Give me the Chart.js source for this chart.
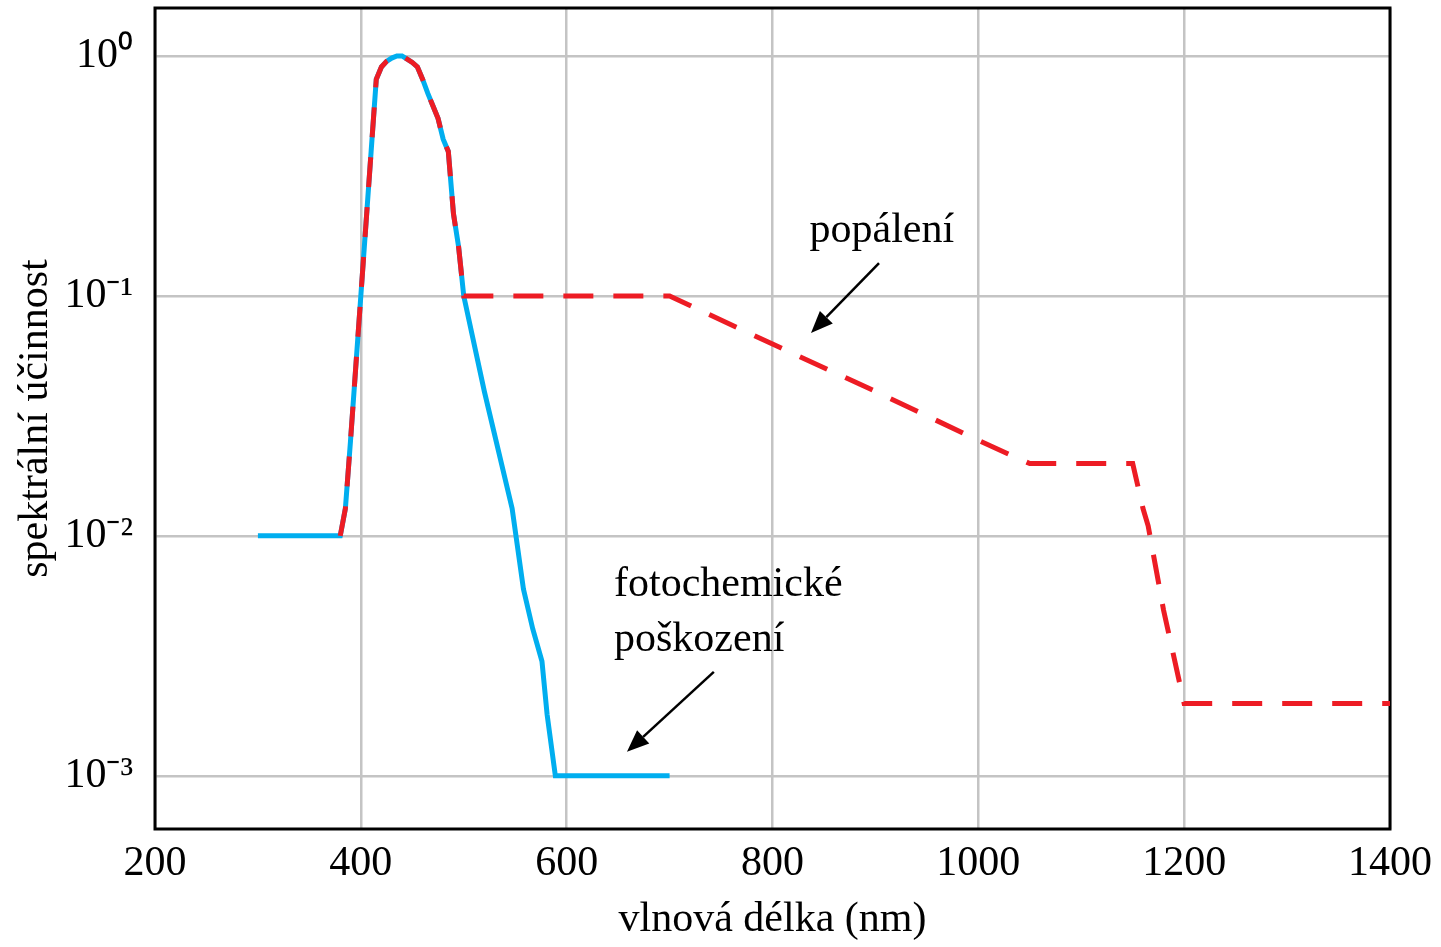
<!DOCTYPE html>
<html>
<head>
<meta charset="utf-8">
<script src="https://cdn.jsdelivr.net/npm/chart.js@4"></script>
<style>
  html, body { margin: 0; padding: 0; background: #fff; }
  canvas { display: block; }
</style>
</head>
<body>
<canvas id="myChart" width="1441" height="947"></canvas>
<script>
// fotochemické poškození (modrá křivka)
var blueX = [300, 380, 385, 390, 395, 400, 405, 410, 415, 420, 425, 430, 435, 440, 445, 450, 455, 460, 465, 470, 475, 480, 485, 490, 495, 500, 520, 547, 558, 567, 576, 581, 589, 700];
var blueY = [0.01, 0.01, 0.013, 0.025, 0.05, 0.1, 0.2, 0.4, 0.8, 0.9, 0.95, 0.98, 1.0, 1.0, 0.97, 0.94, 0.9, 0.8, 0.7, 0.62, 0.55, 0.45, 0.4, 0.22, 0.16, 0.1, 0.04, 0.013, 0.006, 0.0041, 0.003, 0.0018, 0.001, 0.001];

// popálení (červená čárkovaná křivka)
var redX = [380, 385, 390, 395, 400, 405, 410, 415, 420, 425, 430, 435, 440, 445, 450, 455, 460, 465, 470, 475, 480, 485, 490, 495, 500, 700, 800, 900, 1000, 1050, 1150, 1160, 1165, 1180, 1200, 1400];
var redY = [0.01, 0.013, 0.025, 0.05, 0.1, 0.2, 0.4, 0.8, 0.9, 0.95, 0.98, 1.0, 1.0, 0.97, 0.94, 0.9, 0.8, 0.7, 0.62, 0.55, 0.45, 0.4, 0.22, 0.16, 0.1, 0.1, 0.063, 0.04, 0.025, 0.02, 0.02, 0.013, 0.011, 0.0049, 0.002, 0.002];

var xTicks = [200, 400, 600, 800, 1000, 1200, 1400];
var yTicks = [1, 0.1, 0.01, 0.001];
var yTickLabels = ['10\u2070', '10\u207B\u00B9', '10\u207B\u00B2', '10\u207B\u00B3'];

var serif = 'Liberation Serif';

function pairs(xs, ys) {
  return xs.map(function(x, i) { return {x: x, y: ys[i]}; });
}

// rámeček kolem grafu
var framePlugin = {
  id: 'frame',
  beforeDatasetsDraw: function(chart) {
    var a = chart.chartArea, c = chart.ctx;
    c.save();
    c.strokeStyle = '#000';
    c.lineWidth = 3;
    c.strokeRect(a.left, a.top, a.right - a.left, a.bottom - a.top);
    c.restore();
  }
};

function arrow(c, x1, y1, x2, y2) {
  var ang = Math.atan2(y2 - y1, x2 - x1);
  var len = 22, half = 9;
  var bx = x2 - Math.cos(ang) * len, by = y2 - Math.sin(ang) * len;
  c.beginPath();
  c.moveTo(x1, y1);
  c.lineTo(bx, by);
  c.lineWidth = 2.5;
  c.strokeStyle = '#000';
  c.stroke();
  c.beginPath();
  c.moveTo(x2, y2);
  c.lineTo(bx + Math.sin(ang) * half, by - Math.cos(ang) * half);
  c.lineTo(bx - Math.sin(ang) * half, by + Math.cos(ang) * half);
  c.closePath();
  c.fillStyle = '#000';
  c.fill();
}

// popisky křivek se šipkami
var notesPlugin = {
  id: 'notes',
  afterDatasetsDraw: function(chart) {
    var c = chart.ctx, sx = chart.scales.x, sy = chart.scales.y;
    function px(x) { return sx.getPixelForValue(x); }
    function py(y) { return sy.getPixelForValue(y); }
    c.save();
    c.fillStyle = '#000';
    c.font = '42px "' + serif + '"';
    c.textAlign = 'left';
    c.textBaseline = 'alphabetic';
    c.fillText('popálení', px(836), py(0.167));
    c.fillText('fotochemické', px(646), py(0.0056));
    c.fillText('poškození', px(646), py(0.0033));
    arrow(c, px(903.5), py(0.137), px(837.4), py(0.0701));
    arrow(c, px(743), py(0.00271), px(658.6), py(0.00126));
    c.restore();
  }
};

var ctx = document.getElementById('myChart').getContext('2d');
var myChart = new Chart(ctx, {
  type: 'line',
  data: {
    datasets: [{
      label: 'popálení',
      data: pairs(redX, redY),
      borderColor: '#ED1C24',
      borderWidth: 5,
      borderDash: [30, 20],
      borderCapStyle: 'butt',
      pointRadius: 0,
      tension: 0,
      fill: false
    }, {
      label: 'fotochemické poškození',
      data: pairs(blueX, blueY),
      borderColor: '#00AEEF',
      borderWidth: 5,
      pointRadius: 0,
      tension: 0,
      fill: false
    }]
  },
  options: {
    responsive: false,
    animation: false,
    devicePixelRatio: 1,
    layout: { padding: { top: 8, right: 51, left: 0, bottom: 0 } },
    plugins: {
      legend: { display: false },
      tooltip: { enabled: false }
    },
    scales: {
      x: {
        type: 'linear',
        min: 200,
        max: 1400,
        afterBuildTicks: function(scale) {
          scale.ticks = xTicks.map(function(v) { return {value: v}; });
        },
        afterFit: function(scale) {
          scale.height = 118;
          scale.paddingLeft = 0;
          scale.paddingRight = 0;
        },
        ticks: {
          color: '#000',
          padding: 10,
          maxRotation: 0,
          font: { family: serif, size: 42 },
          callback: function(value) { return String(value); }
        },
        grid: { color: '#c4c4c4', lineWidth: 2.5, drawTicks: false },
        border: { display: false },
        title: {
          display: true,
          text: 'vlnová délka (nm)',
          color: '#000',
          font: { family: serif, size: 42 },
          padding: { top: 0, bottom: 2 }
        }
      },
      y: {
        type: 'logarithmic',
        min: Math.pow(10, -3.217),
        max: Math.pow(10, 0.2),
        afterBuildTicks: function(scale) {
          scale.ticks = yTicks.map(function(v) { return {value: v}; });
        },
        afterFit: function(scale) {
          scale.width = 155;
          scale.paddingTop = 0;
          scale.paddingBottom = 0;
        },
        ticks: {
          color: '#000',
          padding: 22,
          font: { family: serif, size: 42 },
          callback: function(value) {
            var i = yTicks.indexOf(value);
            return i >= 0 ? yTickLabels[i] : '';
          }
        },
        grid: { color: '#c4c4c4', lineWidth: 2.5, drawTicks: false },
        border: { display: false },
        title: {
          display: true,
          text: 'spektrální účinnost',
          color: '#000',
          font: { family: serif, size: 42 },
          padding: { top: 11, bottom: 0 }
        }
      }
    }
  },
  plugins: [framePlugin, notesPlugin]
});
</script>
</body>
</html>
